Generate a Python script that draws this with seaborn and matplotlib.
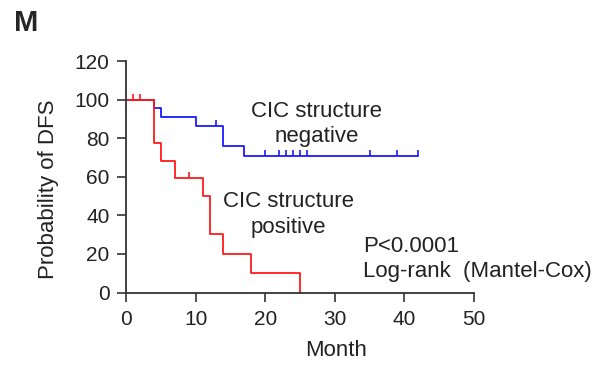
import matplotlib
matplotlib.use('Agg')
import matplotlib.pyplot as plt
import pandas as pd
import seaborn as sns

# step curves (month, % DFS)
neg_months = [0, 4, 5, 10, 14, 17, 42]
neg_surv = [100, 95.5, 90.9, 86.4, 76, 71, 71]
pos_months = [0, 4, 5, 7, 11, 12, 14, 18, 25]
pos_surv = [100, 77.3, 68.2, 59.4, 50.2, 30.1, 19.8, 9.9, 0]

# censored observations
neg_cens_months = [13, 20, 22, 23, 24, 25, 26, 35, 39, 42]
neg_cens_surv = [86.4, 71, 71, 71, 71, 71, 71, 71, 71, 71]
pos_cens_months = [1, 2, 9]
pos_cens_surv = [100, 100, 59.4]

x_ticks = [0, 10, 20, 30, 40, 50]
y_ticks = [0, 20, 40, 60, 80, 100, 120]

sns.set_theme(style='ticks')
plt.rcParams['font.family'] = ['Liberation Sans', 'DejaVu Sans']

df = pd.concat([
    pd.DataFrame({'month': neg_months, 'surv': neg_surv, 'grp': 'negative'}),
    pd.DataFrame({'month': pos_months, 'surv': pos_surv, 'grp': 'positive'}),
])
palette = {'negative': '#1a1aff', 'positive': '#ff1a1a'}
txt = '#222222'

fig = plt.figure(figsize=(6.02, 3.65), dpi=100)
ax = fig.add_axes([0.2093, 0.1986, 0.578, 0.634])

sns.lineplot(data=df, x='month', y='surv', hue='grp', palette=palette,
             drawstyle='steps-post', linewidth=1.3, legend=False, ax=ax,
             estimator=None, sort=False, clip_on=False)

ax.plot(neg_cens_months, neg_cens_surv, linestyle='none', marker=2,
        markersize=4.5, markeredgewidth=1.2, color=palette['negative'], clip_on=False)
ax.plot(pos_cens_months, pos_cens_surv, linestyle='none', marker=2,
        markersize=4.5, markeredgewidth=1.2, color=palette['positive'], clip_on=False)

ax.set_xlim(0, 50)
ax.set_ylim(0, 120)
ax.set_xticks(x_ticks)
ax.set_yticks(y_ticks)
ax.tick_params(labelsize=15, length=6.3, width=1.2, color='#333333', labelcolor=txt)
ax.tick_params(axis='x', pad=6)
ax.tick_params(axis='y', pad=5.5)
for side in ['top', 'right']:
    ax.spines[side].set_visible(False)
for side in ['left', 'bottom']:
    ax.spines[side].set_linewidth(1.3)
    ax.spines[side].set_color('#333333')

ax.set_xlabel('Month', fontsize=16, color=txt)
ax.set_ylabel('Probability of DFS', fontsize=16, color=txt)
ax.xaxis.set_label_coords(0.603, -0.205)
ax.yaxis.set_label_coords(-0.1925, 0.448)

ax.text(27.4, 90.9, 'CIC structure', ha='center', va='baseline', fontsize=16, color=txt)
ax.text(27.4, 77.8, 'negative', ha='center', va='baseline', fontsize=16, color=txt)
ax.text(23.3, 44.3, 'CIC structure', ha='center', va='baseline', fontsize=16, color=txt)
ax.text(23.3, 30.7, 'positive', ha='center', va='baseline', fontsize=16, color=txt)
ax.text(34.1, 21.1, 'P<0.0001', ha='left', va='baseline', fontsize=16, color=txt)
ax.text(34.1, 8.2, 'Log-rank  (Mantel-Cox)', ha='left', va='baseline', fontsize=16, color=txt)

fig.text(0.043, 0.937, 'M', fontsize=21, fontweight='bold', ha='center', va='center')

fig.savefig('out.png', dpi=100)
